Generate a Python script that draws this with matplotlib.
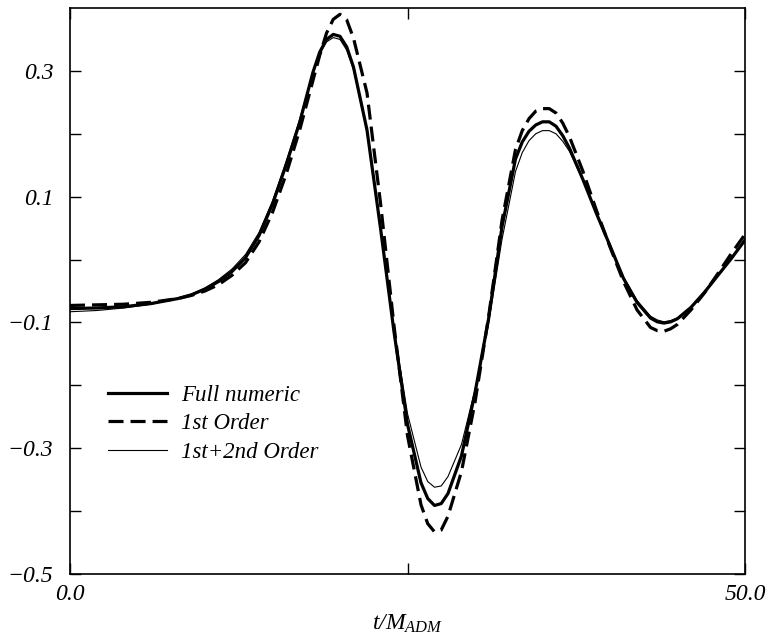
import numpy as np
import matplotlib
matplotlib.use("Agg")
from matplotlib import pyplot as plt
from matplotlib.ticker import FixedLocator, FixedFormatter

plt.rcParams['font.family'] = ['Liberation Serif', 'DejaVu Serif']
plt.rcParams['font.style'] = 'italic'
plt.rcParams['mathtext.fontset'] = 'custom'
plt.rcParams['mathtext.it'] = 'Liberation Serif:italic'
plt.rcParams['mathtext.rm'] = 'Liberation Serif:italic'

# time samples (t / M_ADM)
t = [0, 2, 4, 6, 8, 9, 10, 11, 12, 13, 14, 15, 16, 17, 18, 18.5, 19, 19.5, 20,
     20.5, 21, 22, 23, 24, 25, 26, 26.5, 27, 27.5, 28, 29, 30, 31, 32, 33, 33.5,
     34, 34.5, 35, 35.5, 36, 36.5, 37, 38, 39, 40, 41, 42, 43, 43.5, 44, 44.5,
     45, 46, 47, 48, 49, 50]

full_numeric = [-0.078, -0.077, -0.075, -0.070, -0.062, -0.056, -0.047, -0.035,
                -0.019, 0.003, 0.038, 0.088, 0.150, 0.217, 0.298, 0.330, 0.350,
                0.358, 0.355, 0.338, 0.306, 0.206, 0.050, -0.115, -0.262,
                -0.355, -0.380, -0.391, -0.388, -0.372, -0.312, -0.212, -0.095,
                0.052, 0.160, 0.187, 0.204, 0.214, 0.219, 0.219, 0.212, 0.197,
                0.177, 0.127, 0.073, 0.022, -0.030, -0.068, -0.093, -0.099,
                -0.101, -0.099, -0.094, -0.076, -0.052, -0.025, 0.002, 0.031]

first_order = [-0.073, -0.072, -0.071, -0.068, -0.062, -0.057, -0.050, -0.040,
               -0.025, -0.005, 0.028, 0.075, 0.135, 0.205, 0.285, 0.325, 0.360,
               0.382, 0.390, 0.381, 0.352, 0.265, 0.090, -0.105, -0.280,
               -0.390, -0.420, -0.433, -0.430, -0.408, -0.337, -0.227, -0.092,
               0.062, 0.175, 0.205, 0.224, 0.236, 0.240, 0.240, 0.233, 0.217,
               0.195, 0.140, 0.078, 0.020, -0.035, -0.080, -0.108, -0.113,
               -0.114, -0.110, -0.103, -0.080, -0.053, -0.022, 0.010, 0.040]

second_order = [-0.083, -0.081, -0.077, -0.071, -0.062, -0.055, -0.045, -0.032,
                -0.015, 0.008, 0.043, 0.093, 0.155, 0.222, 0.298, 0.327, 0.346,
                0.353, 0.350, 0.333, 0.302, 0.203, 0.050, -0.110, -0.245,
                -0.330, -0.353, -0.362, -0.360, -0.345, -0.294, -0.207, -0.102,
                0.032, 0.140, 0.170, 0.189, 0.200, 0.205, 0.205, 0.200, 0.188,
                0.172, 0.126, 0.073, 0.022, -0.028, -0.065, -0.090, -0.096,
                -0.099, -0.097, -0.093, -0.076, -0.052, -0.025, 0.002, 0.030]

fig = plt.figure(figsize=(7.69, 6.41), dpi=100)
ax = fig.add_axes([70 / 769, 1 - 574 / 641, 675 / 769, 566 / 641])

ax.plot(t, full_numeric, color='black', lw=2.3, label='Full numeric')
ax.plot(t, first_order, color='black', lw=2.3, dashes=(4.7, 2.2), label='1st Order')
ax.plot(t, second_order, color='black', lw=0.8, label='1st+2nd Order')

ax.set_xlim(0, 50)
ax.set_ylim(-0.5, 0.4)

ax.xaxis.set_major_locator(FixedLocator([0, 50]))
ax.xaxis.set_major_formatter(FixedFormatter(['0.0', '50.0']))
ax.xaxis.set_minor_locator(FixedLocator([25]))
ax.yaxis.set_major_locator(FixedLocator([-0.5, -0.3, -0.1, 0.1, 0.3]))
ax.yaxis.set_major_formatter(FixedFormatter(['\u22120.5', '\u22120.3', '\u22120.1', '0.1', '0.3']))
ax.yaxis.set_minor_locator(FixedLocator([-0.4, -0.2, 0.0, 0.2]))

ax.tick_params(which='both', direction='in', top=True, right=True,
               length=8, width=1, labelsize=17)
ax.tick_params(axis='y', pad=12)
ax.tick_params(axis='x', pad=7)
for s in ax.spines.values():
    s.set_linewidth(1.2)

ax.set_xlabel(r'$t/M_{ADM}$', fontsize=17, labelpad=6)

ax.legend(loc='upper left', bbox_to_anchor=(0.056, 0.334), frameon=False,
          fontsize=16.5, handlelength=2.6, handletextpad=0.6, labelspacing=0.32,
          borderpad=0, borderaxespad=0)

fig.savefig('out.png', dpi=100)
